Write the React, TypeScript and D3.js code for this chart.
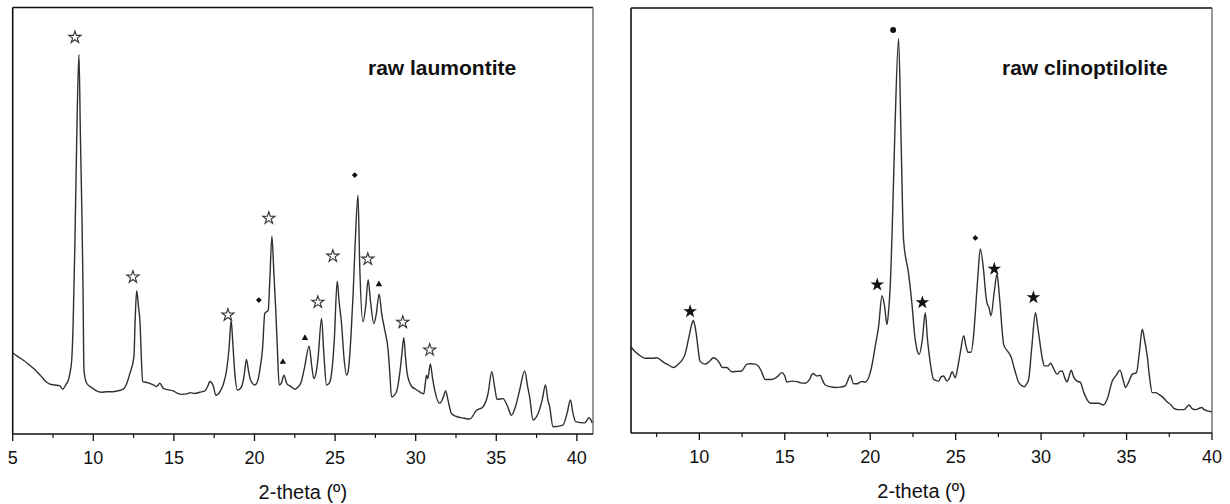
import React from "react";
import * as d3 from "d3";

// ---------- data ----------
const laumontiteTheta = [5.0,5.3,5.66,6.0,6.28,6.5,6.8,7.05,7.31,7.6,7.93,8.1,8.3,8.45,8.55,8.66,8.75,8.86,9.0,9.11,9.2,9.3,9.36,9.42,9.59,9.9,10.2,10.5,10.83,11.2,11.6,11.86,12.05,12.27,12.52,12.6,12.69,12.8,12.9,12.98,13.06,13.2,13.4,13.72,13.93,14.13,14.34,14.6,14.96,15.2,15.48,15.8,16.0,16.3,16.6,16.92,17.1,17.23,17.44,17.6,17.85,18.05,18.27,18.42,18.55,18.66,18.78,18.95,19.2,19.35,19.5,19.62,19.76,20.02,20.2,20.33,20.5,20.64,20.85,20.95,21.08,21.2,21.32,21.42,21.53,21.68,21.82,22.02,22.2,22.5,22.7,22.91,23.1,23.39,23.55,23.68,23.85,23.95,24.16,24.3,24.47,24.65,24.78,24.95,25.13,25.25,25.4,25.55,25.71,25.8,25.91,26.0,26.12,26.25,26.42,26.53,26.73,26.9,27.05,27.2,27.4,27.55,27.73,27.9,28.08,28.29,28.4,28.5,28.81,29.01,29.15,29.26,29.37,29.47,29.74,30.0,30.25,30.5,30.6,30.67,30.75,30.91,31.05,31.18,31.49,31.7,31.86,32.0,32.22,32.53,33.0,33.35,33.77,34.18,34.49,34.72,34.9,35.05,35.42,35.7,35.94,36.2,36.45,36.76,36.95,37.07,37.28,37.59,37.85,38.05,38.2,38.31,38.52,39.14,39.4,39.6,39.75,39.92,40.48,40.75,40.96];
const laumontiteIntensity = [19.0,18.2,17.3,16.3,15.4,14.6,13.4,12.3,11.7,11.5,11.3,10.5,11.6,12.6,14.3,17.3,26,45,75,89,70,50,35,15,11.9,10.9,10.1,9.8,9.9,9.9,10.2,10.5,11.6,14.2,18.1,27,33.6,30,26,18,12.3,12.2,12.0,11.5,11.1,11.9,10.7,10.4,10.1,9.6,9.3,9.4,9.7,9.5,9.8,10.1,11.2,12.3,11.3,9.1,9.9,11.5,15.0,20,26.6,21,14.2,10.3,11.1,13.5,17.5,15,12.6,11.5,12.5,15.0,20,28.3,29,36,46.4,38,29,20,11.5,12.0,13.8,11.7,11.3,10.5,11.0,12.3,15.5,20.6,16,13.0,15,18.1,27.1,19,11.5,12,14.2,22,35.8,31,25.9,18,13.8,14.5,18.5,24,33,45,56,39.2,26.3,30,36.2,31,25.9,28,32.8,28,24.4,19.7,14,8.7,9.9,14.2,19,22.6,18,14.2,11.2,10.5,9.9,9.4,12,13.8,13,16.4,13,10.3,7.2,8.5,10.1,8,4.8,4.1,3.7,3.5,5.5,6.4,9.5,14.6,11,8.1,8.3,6.5,4.4,6.5,10.3,14.8,11,8.7,3.3,4.8,8,11.5,8,6.4,1.7,2.1,5,8.0,5,2.9,2.6,3.8,2.6];

const clinoTheta = [6.0,6.2,6.43,6.82,7.31,7.5,7.89,8.2,8.48,8.77,9.0,9.16,9.4,9.55,9.65,9.75,9.85,9.95,10.04,10.33,10.6,10.82,11.02,11.2,11.35,11.6,11.9,12.2,12.48,12.78,13.0,13.26,13.5,13.66,13.85,14.24,14.55,14.83,15.0,15.12,15.4,15.71,15.95,16.19,16.45,16.64,16.88,17.07,17.2,17.36,17.65,17.95,18.25,18.54,18.7,18.83,19.02,19.25,19.47,19.71,20.0,20.15,20.29,20.49,20.69,20.84,20.98,21.08,21.17,21.3,21.45,21.66,21.8,21.95,22.24,22.45,22.6,22.73,22.87,23.05,23.22,23.35,23.51,23.71,24.0,24.15,24.29,24.49,24.65,24.79,24.98,25.1,25.27,25.47,25.6,25.72,25.9,26.05,26.15,26.3,26.44,26.64,26.75,26.83,26.95,27.07,27.25,27.42,27.52,27.61,27.72,27.81,28.1,28.25,28.39,28.55,28.69,29.02,29.15,29.27,29.45,29.67,29.8,29.96,30.07,30.19,30.4,30.55,30.75,30.94,31.1,31.23,31.4,31.52,31.65,31.76,31.9,32.11,32.3,32.5,32.89,33.38,33.63,33.87,34.16,34.4,34.61,34.8,34.94,35.1,35.33,35.58,35.75,35.92,36.05,36.21,36.35,36.5,36.7,36.89,37.1,37.38,37.6,37.77,38.0,38.36,38.65,38.85,39.04,39.25,39.39,39.55,39.73,40.0];
const clinoIntensity = [20.3,19.3,18.5,17.6,17.6,17.7,16.7,16.0,15.4,16.2,17.2,18.5,22.8,25.5,26.5,25,22.4,19,16.9,16.2,16.9,17.7,17.3,16.3,15.4,15.4,14.4,14.5,14.6,16.2,16.3,16.2,15.5,14.2,12.6,12.6,13.2,14.2,13.4,12.0,12.2,12.1,11.8,11.7,12.6,14.0,13.4,13.6,12.5,11.3,10.9,10.7,10.8,11.1,12.5,13.6,11.6,11.6,12.1,12.0,14.2,17,20.4,25.1,32.3,29.8,25.5,29,34.5,50,72,92.8,70,45.4,37.6,30,23,19.7,18.5,22,28.3,22,16.6,12.6,12.2,13.2,13.4,12.2,13,14.4,13.0,15,18.9,22.9,20.5,19.0,19.0,23,28.3,37,43.3,38.0,33,30.6,29.5,27.6,33,37.4,34,29.8,24,20.8,18.9,17.8,15.8,13.5,11.9,10.9,11.5,12.6,20,28.3,25,20.4,17.5,15.8,15.8,16.4,15,13.8,14.5,14.6,12.8,12.0,13.5,14.8,13.2,12.2,11.9,9.5,7.0,7.0,6.6,8.0,12.2,13.6,14.8,12.5,10.7,11.8,13.8,14.2,19,24.4,22,18.1,13,9.5,9.5,9.1,8.5,7.3,6.6,5.8,5.5,5.5,6.6,5.7,5.5,5.8,6.0,5.5,5.2,5.0];

// markers: [2theta, level]
const laumOpenStars = [[8.86,93.0],[12.46,36.8],[18.35,27.9],[20.89,50.6],[23.93,30.9],[24.86,41.7],[27.03,41.0],[29.2,26.2],[30.87,19.7]];
const laumDiamonds = [[20.27,31.4],[26.22,60.7]];
const laumTriangles = [[21.76,16.9],[23.13,22.5],[27.72,35.1]];
const clinoFilledStars = [[9.46,28.6],[20.41,34.9],[23.05,30.7],[27.26,38.6],[29.55,31.9]];
const clinoCircles = [[21.34,94.8]];
const clinoDiamonds = [[26.15,45.9]];

const laumMajorTicks = [5,10,15,20,25,30,35,40];
const laumMinorTicks = [7.5,12.5,17.5,22.5,27.5,32.5,37.5];
const clinoMajorTicks = [10,15,20,25,30,35,40];
const clinoMinorTicks = [7.5,12.5,17.5,22.5,27.5,32.5,37.5];

const FONT = "'Liberation Sans', Arial, sans-serif";

type Pt = number[];

function Panel(props: {
  x0: number; x1: number; top: number; bottom: number;
  domain: [number, number]; theta: number[]; inten: number[];
  major: number[]; minor: number[]; title: string; titleX: number;
  markers: { pts: Pt[]; type: string }[];
}) {
  const { x0, x1, top, bottom, domain, theta, inten, major, minor, title, titleX, markers } = props;
  const x = d3.scaleLinear().domain(domain).range([x0, x1]);
  const y = d3.scaleLinear().domain([0, 100]).range([bottom, top]);
  const data = theta.map((t, i) => [t, inten[i]] as [number, number]);
  const line = d3.line<[number, number]>().x(d => x(d[0])).y(d => y(d[1])).curve(d3.curveMonotoneX);
  const sym = (type: string) => {
    switch (type) {
      case "openStar": return { d: d3.symbol().type(d3.symbolStar).size(46)()!, fill: "#fff", stroke: "#333", rot: 0 };
      case "star": return { d: d3.symbol().type(d3.symbolStar).size(58)()!, fill: "#111", stroke: "none", rot: 0 };
      case "diamond": return { d: d3.symbol().type(d3.symbolSquare).size(17)()!, fill: "#111", stroke: "none", rot: 45 };
      case "triangle": return { d: d3.symbol().type(d3.symbolTriangle).size(18)()!, fill: "#111", stroke: "none", rot: 0 };
      default: return { d: d3.symbol().type(d3.symbolCircle).size(28)()!, fill: "#111", stroke: "none", rot: 0 };
    }
  };
  return (
    <g>
      <path d={line(data)!} fill="none" stroke="#303030" strokeWidth={1.4} strokeLinejoin="round" />
      {markers.map((m, mi) => {
        const s = sym(m.type);
        return m.pts.map((p, i) => (
          <path key={mi + "-" + i} d={s.d} transform={`translate(${x(p[0])},${y(p[1])}) rotate(${s.rot})`}
            fill={s.fill} stroke={s.stroke} strokeWidth={1.1} />
        ));
      })}
      {/* frame */}
      <line x1={x0} x2={x0} y1={top} y2={bottom} stroke="#111" strokeWidth={1.6} />
      <line x1={x0} x2={x1} y1={top} y2={top} stroke="#111" strokeWidth={1.6} />
      <line x1={x1} x2={x1} y1={top} y2={bottom} stroke="#555" strokeWidth={1.2} />
      <line x1={x0} x2={x1} y1={bottom} y2={bottom} stroke="#111" strokeWidth={1.6} />
      {major.map(t => (
        <g key={"M" + t}>
          <line x1={x(t)} x2={x(t)} y1={bottom} y2={bottom + 7} stroke="#111" strokeWidth={1.3} />
          <text x={x(t)} y={bottom + 30} textAnchor="middle" fontFamily={FONT} fontSize={18} fill="#111">{t}</text>
        </g>
      ))}
      {minor.map(t => (
        <line key={"m" + t} x1={x(t)} x2={x(t)} y1={bottom} y2={bottom + 4} stroke="#111" strokeWidth={1.2} />
      ))}
      <text x={(x0 + x1) / 2} y={bottom + 65} textAnchor="middle" fontFamily={FONT} fontSize={20} fill="#111">2-theta (º)</text>
      <text x={titleX} y={75} fontFamily={FONT} fontSize={21} fontWeight="bold" fill="#111">{title}</text>
    </g>
  );
}

export default function App() {
  return (
    <svg width={1230} height={504} style={{ position: "absolute", left: 0, top: 0, background: "#fff" }}>
      <rect width={1230} height={504} fill="#fff" />
      <Panel x0={12.7} x1={593} top={7.5} bottom={434} domain={[5, 41]}
        theta={laumontiteTheta} inten={laumontiteIntensity}
        major={laumMajorTicks} minor={laumMinorTicks}
        title="raw laumontite" titleX={368}
        markers={[
          { pts: laumOpenStars, type: "openStar" },
          { pts: laumDiamonds, type: "diamond" },
          { pts: laumTriangles, type: "triangle" },
        ]} />
      <Panel x0={631} x1={1212} top={8} bottom={433} domain={[6, 40]}
        theta={clinoTheta} inten={clinoIntensity}
        major={clinoMajorTicks} minor={clinoMinorTicks}
        title="raw clinoptilolite" titleX={1002}
        markers={[
          { pts: clinoFilledStars, type: "star" },
          { pts: clinoCircles, type: "circle" },
          { pts: clinoDiamonds, type: "diamond" },
        ]} />
    </svg>
  );
}
